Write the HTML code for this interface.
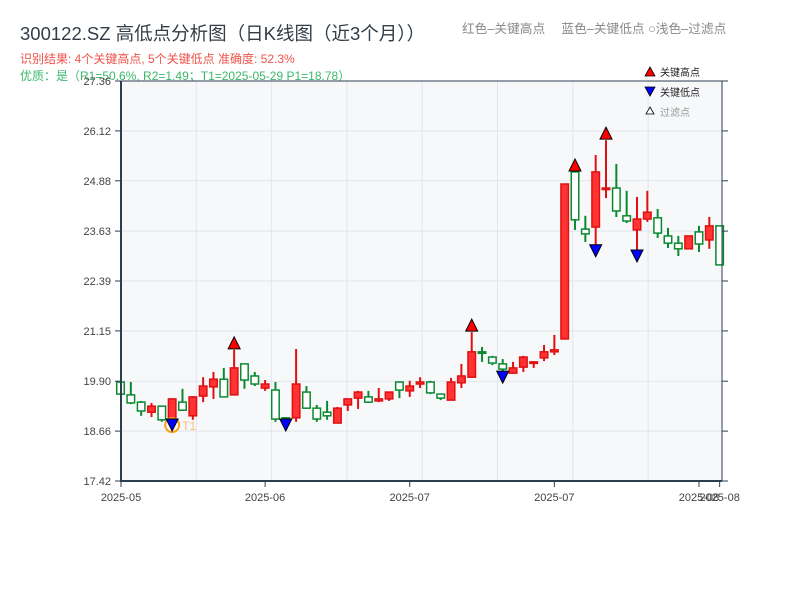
<!DOCTYPE html>
<html><head><meta charset="utf-8">
<style>
html,body{margin:0;padding:0;background:#fff;}
body{width:800px;height:600px;overflow:hidden;font-family:"Liberation Sans","Noto Sans CJK SC",sans-serif;}
svg text{font-family:"Liberation Sans","Noto Sans CJK SC",sans-serif;}
</style></head>
<body>
<svg id="chart" width="800" height="600" xmlns="http://www.w3.org/2000/svg">
<text x="20" y="40" font-size="18.5" fill="#333d47">300122.SZ 高低点分析图（日K线图（近3个月））</text>
<text x="20" y="63" font-size="12" fill="#f0524a">识别结果: 4个关键高点, 5个关键低点  准确度: 52.3%</text>
<text x="20" y="80" font-size="12" fill="#3cb86a">优质：是（R1=50.6%, R2=1.49；T1=2025-05-29 P1=18.78）</text>
<text x="462" y="33" font-size="12.7" fill="#888">红色–关键高点　 蓝色–关键低点  ○浅色–过滤点</text>
<rect x="121" y="81" width="601" height="400" fill="#f7f8fa"/>
<g id="grid"></g>
<g id="candles"></g>
<g id="markers"></g>
<g id="axes"></g>
<g>
<polygon points="650,67 655,76 645,76" fill="#f00" stroke="#000" stroke-width="0.8"/>
<text x="660" y="76" font-size="10" fill="#222">关键高点</text>
<polygon points="645,87 655,87 650,96" fill="#00f" stroke="#000" stroke-width="0.8"/>
<text x="660" y="96" font-size="10" fill="#222">关键低点</text>
<polygon points="650,107 654,114 646,114" fill="#fff" stroke="#000" stroke-width="0.8"/>
<text x="660" y="116" font-size="10" fill="#999">过滤点</text>
</g>
</svg>
<script>
const opens =  [19.88,19.56,19.38,19.13,19.28,18.94,19.38,19.04,19.53,19.76,19.95,19.56,20.33,20.03,19.73,19.68,18.99,18.99,19.63,19.23,19.13,18.86,19.31,19.48,19.51,19.41,19.46,19.88,19.66,19.83,19.88,19.58,19.43,19.86,20.00,20.63,20.50,20.33,20.10,20.25,20.35,20.48,20.63,20.95,25.10,23.68,23.73,24.68,24.70,24.01,23.66,23.93,23.96,23.51,23.33,23.19,23.61,23.41,23.76];
const closes = [19.58,19.36,19.16,19.28,18.94,19.46,19.18,19.51,19.78,19.95,19.51,20.23,19.93,19.83,19.83,18.96,18.94,19.83,19.23,18.96,19.04,19.23,19.46,19.63,19.38,19.46,19.63,19.68,19.78,19.88,19.61,19.48,19.88,20.03,20.63,20.60,20.35,20.20,20.23,20.50,20.38,20.63,20.68,24.80,23.91,23.56,25.10,24.70,24.13,23.88,23.93,24.10,23.58,23.33,23.19,23.51,23.31,23.76,22.79];
const highs =  [19.88,19.88,19.41,19.36,19.28,19.48,19.71,19.53,20.00,20.13,20.23,20.68,20.33,20.13,19.93,19.88,19.01,20.70,19.78,19.31,19.41,19.26,19.46,19.66,19.66,19.73,19.63,19.88,19.91,20.00,19.91,19.58,19.98,20.33,21.12,20.75,20.53,20.45,20.38,20.53,20.40,20.80,21.05,24.80,25.10,24.01,25.52,25.89,25.30,24.63,24.48,24.63,24.18,23.71,23.51,23.51,23.76,23.98,23.76];
const lows =   [19.58,19.33,19.04,19.01,18.89,18.91,19.16,18.94,19.38,19.46,19.51,19.56,19.71,19.78,19.66,18.89,18.91,18.89,19.21,18.89,18.94,18.86,19.16,19.21,19.36,19.38,19.41,19.48,19.51,19.73,19.58,19.43,19.43,19.73,20.00,20.38,20.30,20.10,20.08,20.13,20.23,20.40,20.55,20.95,23.66,23.36,23.24,24.45,23.98,23.83,23.11,23.86,23.46,23.21,23.01,23.19,23.11,23.19,22.79];
const highIdx = [11,34,44,47];
const lowIdx = [5,16,37,46,50];
const yTicks = ["17.42","18.66","19.90","21.15","22.39","23.63","24.88","26.12","27.36"];
const xLabels = ["2025-05","2025-06","2025-07","2025-07","2025-08","2025-08"];
const xLabelIdx = [0,14,28,42,56,58];

const NS="http://www.w3.org/2000/svg";
const yMin=17.42,yMax=27.36,pTop=81,pBot=481,pLeft=121,pRight=722;
function y(p){return pBot-(p-yMin)/(yMax-yMin)*(pBot-pTop);}
function x(i){return 120.5+i*10.33;}
function mk(tag,attrs,parent){const e=document.createElementNS(NS,tag);for(const k in attrs)e.setAttribute(k,attrs[k]);parent.appendChild(e);return e;}

const grid=document.getElementById('grid');
yTicks.forEach((t,i)=>{const yy=y(parseFloat(t));const l=mk('line',{x1:pLeft,x2:pRight,y1:yy,y2:yy,stroke:'#e2e5ea','stroke-width':1},grid);

});
for(let k=1;k<8;k++){const xx=pLeft+k*75.3;const l=mk('line',{x1:xx,x2:xx,y1:pTop,y2:pBot,stroke:'#e2e5ea','stroke-width':1},grid);

}

const cg=document.getElementById('candles');
for(let i=0;i<opens.length;i++){
  const up=closes[i]>=opens[i];const col=up?'#e01010':'#0a8a30';
  const g=mk('g',{},cg);
  
  
  const xc=x(i);const bt=y(Math.max(opens[i],closes[i])),bb=y(Math.min(opens[i],closes[i]));
  mk('line',{x1:xc,x2:xc,y1:y(highs[i]),y2:y(lows[i]),stroke:col,'stroke-width':2},g);
  mk('rect',{x:xc-3.75,y:bt,width:7.5,height:Math.max(bb-bt,1.5),fill:up?'#ff3333':'#fff',stroke:col,'stroke-width':1.5},g);
}
const mg=document.getElementById('markers');
highIdx.forEach(i=>{const xc=x(i),yy=y(highs[i])-1;
 const p=mk('polygon',{points:`${xc},${yy-12} ${xc+6},${yy} ${xc-6},${yy}`,fill:'#f00',stroke:'#000','stroke-width':1},mg);
 
 });
lowIdx.forEach(i=>{const xc=x(i),yy=y(lows[i])-2;
 if(i===5){const c=mk('circle',{cx:xc,cy:yy+6,r:7,fill:'none',stroke:'#f5a020','stroke-width':2},mg);
 
 
 const t=mk('text',{x:xc+10,y:yy+11,'font-size':12,fill:'#f7c080'},mg);t.textContent='T1';
 
 }
 const p=mk('polygon',{points:`${xc-6},${yy} ${xc+6},${yy} ${xc},${yy+12}`,fill:'#00f',stroke:'#000','stroke-width':1},mg);
 
 });

const ax=document.getElementById('axes');
mk('line',{x1:pLeft,x2:pRight,y1:pTop,y2:pTop,stroke:'#2c3e50','stroke-width':1},ax);
mk('line',{x1:pRight,x2:pRight,y1:pTop,y2:pBot,stroke:'#2c3e50','stroke-width':1},ax);
mk('line',{x1:pLeft,x2:pLeft,y1:pTop,y2:pBot+1,stroke:'#2c3e50','stroke-width':2},ax);
mk('line',{x1:pLeft,x2:pRight,y1:pBot,y2:pBot,stroke:'#2c3e50','stroke-width':2},ax);
yTicks.forEach(t=>{const yy=y(parseFloat(t));
 mk('line',{x1:pLeft-6,x2:pLeft,y1:yy,y2:yy,stroke:'#2c3e50','stroke-width':1},ax);
 mk('line',{x1:pRight,x2:pRight+6,y1:yy,y2:yy,stroke:'#2c3e50','stroke-width':1},ax);
 const tx=mk('text',{x:pLeft-10,y:yy+4,'font-size':11,fill:'#444','text-anchor':'end'},ax);tx.textContent=t;
 
 });
xLabelIdx.forEach((i,k)=>{const xx=x(i)+(k===0?0.5:0);
 mk('line',{x1:xx,x2:xx,y1:pBot,y2:pBot+6,stroke:'#2c3e50','stroke-width':1},ax);
 const tx=mk('text',{x:xx,y:pBot+20,'font-size':11,fill:'#444','text-anchor':'middle'},ax);tx.textContent=xLabels[k];
 
 });
</script>
</body></html>
